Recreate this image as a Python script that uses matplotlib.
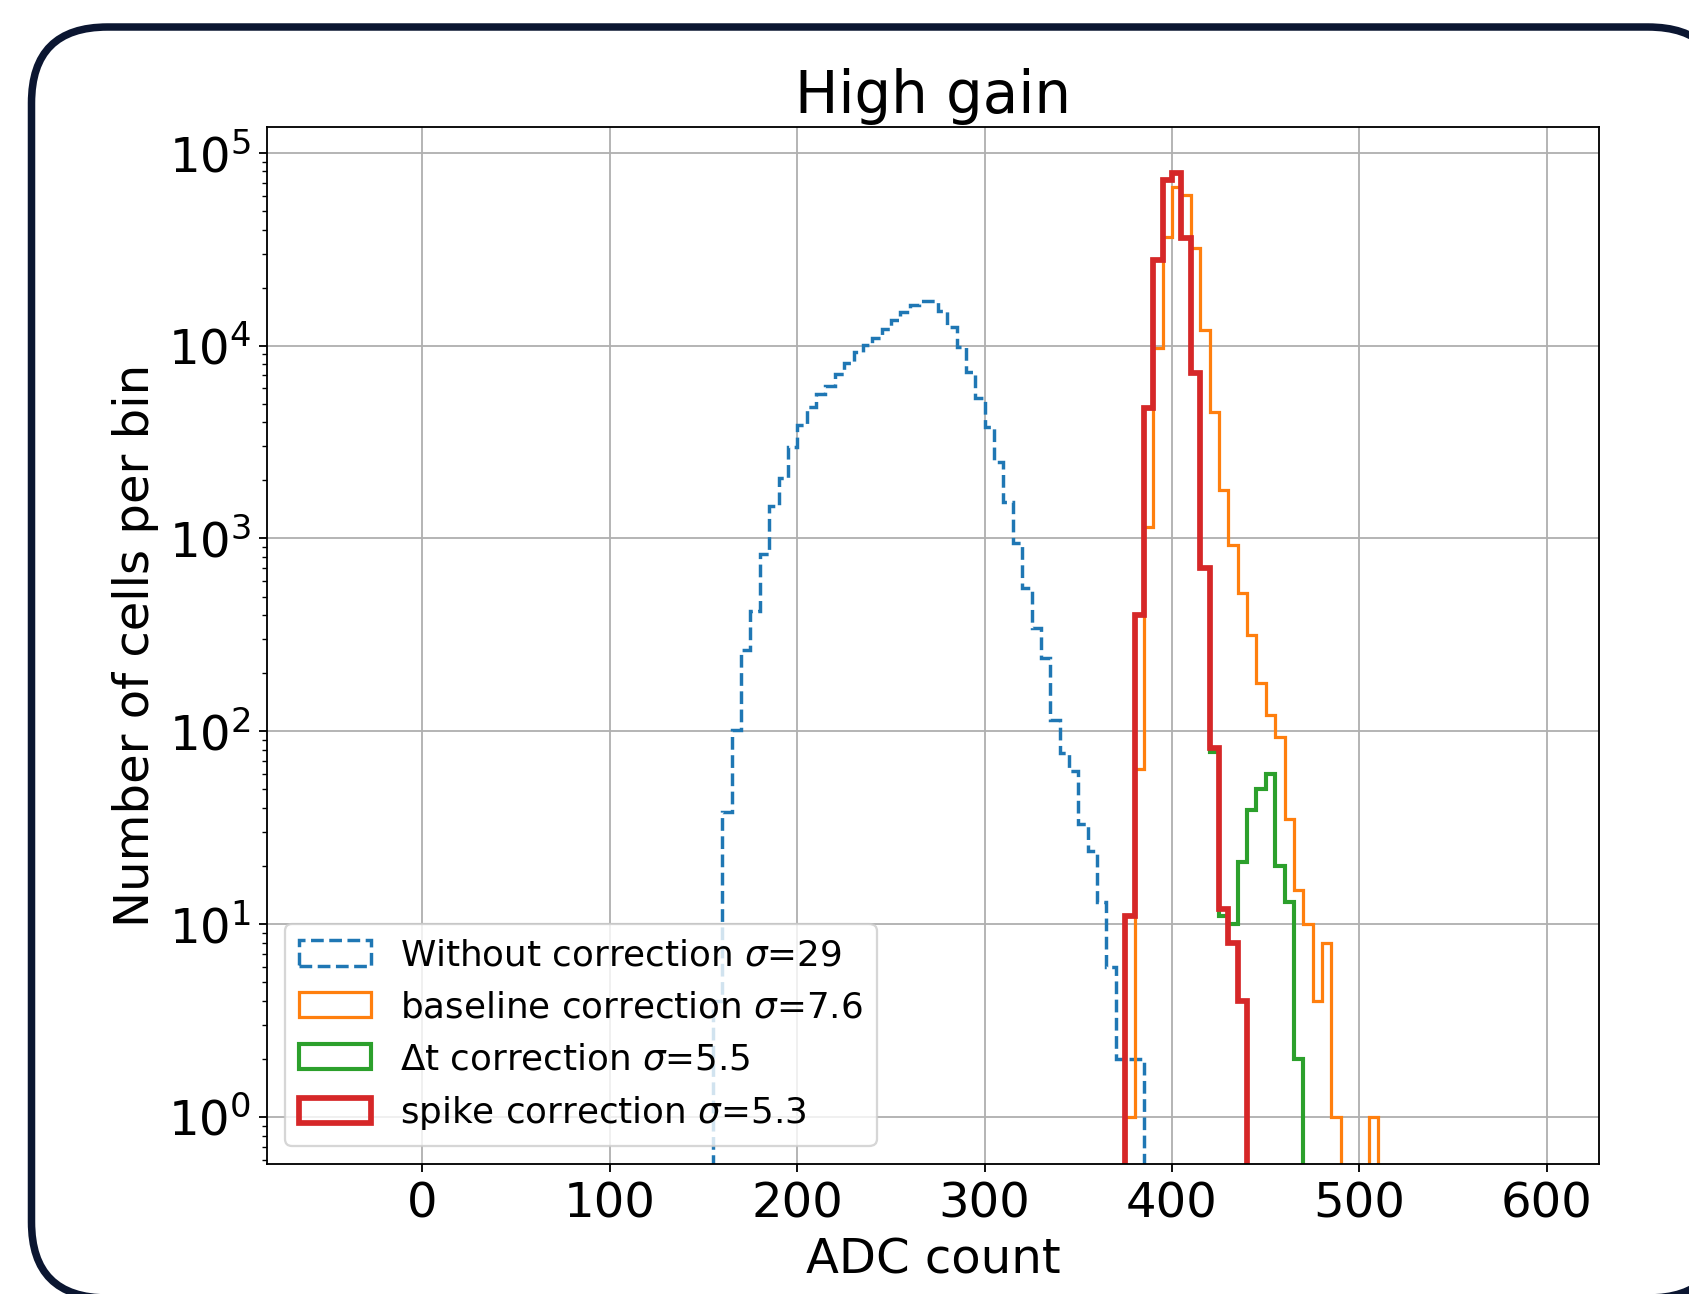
import numpy as np
import matplotlib
matplotlib.use('Agg')
import matplotlib.pyplot as plt
from matplotlib.patches import FancyBboxPatch
from matplotlib.transforms import IdentityTransform

# ---------------- data (bin width 5 ADC counts) ----------------
bin_width = 5

blue_start = 155
blue_counts = [4, 38, 102, 265, 420, 830, 1470, 2050, 2970, 3870, 4820, 5610,
               6170, 7120, 8090, 9290, 10070, 10990, 12140, 13580, 15000, 16200,
               17000, 17000, 15100, 12500, 9860, 7320, 5330, 3800, 2500, 1550,
               944, 551, 342, 239, 114, 77, 62, 33, 24, 13, 6, 2, 2, 2]

orange_start = 375
orange_counts = [1, 64, 1150, 9680, 36700, 66700, 60400, 31900, 12050, 4540,
                 1783, 925, 519, 315, 178, 121, 93, 35, 15, 10, 4, 8, 1, 0, 0, 0, 1]

green_start = 375
green_counts = [11, 402, 4730, 27800, 72200, 78200, 36000, 7180, 700, 78, 11, 10,
                21, 39, 50, 60, 20, 13, 2]

red_start = 375
red_counts = [11, 402, 4730, 27800, 72200, 78200, 36000, 7180, 700, 82, 12, 8, 4]

labels = ["Without correction $\\sigma$=29",
          "baseline correction $\\sigma$=7.6",
          "\u0394t correction $\\sigma$=5.5",
          "spike correction $\\sigma$=5.3"]

title = "High gain"
xlabel = "ADC count"
ylabel = "Number of cells per bin"

# ---------------- figure ----------------
DPI = 165
W, H = 1689, 1294
plt.rcParams['font.size'] = 21
fig = plt.figure(figsize=(W / DPI, H / DPI), dpi=DPI)
ax = fig.add_axes([267.3 / W, 1 - 1164.3 / H, (1599 - 267.3) / W, (1164.3 - 126.7) / H])

series = [
    (blue_start, blue_counts, '#1f77b4', '--', 1.5),
    (orange_start, orange_counts, '#ff7f0e', '-', 1.4),
    (green_start, green_counts, '#2ca02c', '-', 1.8),
    (red_start, red_counts, '#d62728', '-', 2.5),
]

for (start, counts, color, ls, lw), lab in zip(series, labels):
    edges = start + bin_width * np.arange(len(counts) + 1)
    ax.hist(edges[:-1], bins=edges, weights=counts, histtype='step',
            color=color, linestyle=ls, linewidth=lw, log=True, label=lab)

ax.set_xlim(-82.8, 627.8)
ax.set_ylim(0.569, 1.365e5)
ax.grid(True)
ax.set_title(title)
ax.set_xlabel(xlabel)
ax.set_ylabel(ylabel)
ax.legend(loc='lower left', fontsize=15.6)

# rounded border around the figure (drawn beneath the axes)
border = FancyBboxPatch((31.5, -4), 1692.5, 1271,
                        boxstyle='round,pad=0,rounding_size=76',
                        transform=IdentityTransform(), facecolor='white',
                        edgecolor='#0b1631', linewidth=7.5 * 72 / DPI,
                        clip_on=False, zorder=-1)
fig.add_artist(border)

fig.savefig('out.png', dpi=DPI)
